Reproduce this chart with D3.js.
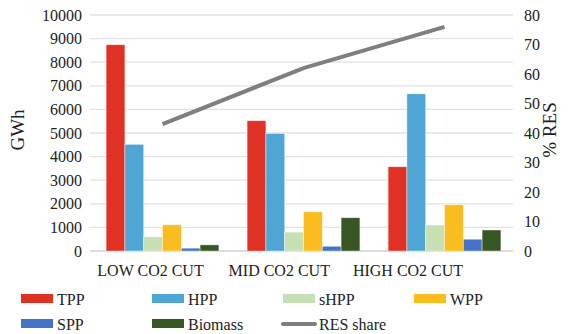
<!DOCTYPE html>
<html><head><meta charset="utf-8">
<script src="https://cdn.jsdelivr.net/npm/d3@7"></script>
<style>body{margin:0;background:#fff}svg{display:block}svg text{font-family:'Liberation Serif','DejaVu Serif','Times New Roman',Times,serif !important;fill:#222}</style>
</head><body><svg id="c" width="572" height="334"></svg>
<script>
const categories = ["LOW CO2 CUT", "MID CO2 CUT", "HIGH CO2 CUT"];
const seriesNames = ["TPP", "HPP", "sHPP", "WPP", "SPP", "Biomass"];
const TPP = [8740, 5520, 3570];
const HPP = [4520, 4980, 6660];
const sHPP = [600, 800, 1100];
const WPP = [1110, 1660, 1960];
const SPP = [120, 200, 500];
const Biomass = [260, 1410, 890];
const resShare = [43, 62, 76];
const leftTicks = [0,1000,2000,3000,4000,5000,6000,7000,8000,9000,10000];
const rightTicks = [0,10,20,30,40,50,60,70,80];
const colors = ["#e03224", "#4fa6d5", "#c6e0b4", "#f9bd20", "#4472c4", "#375623"];
const lineColor = "#7f7f7f";

(function(){
const series = [TPP, HPP, sHPP, WPP, SPP, Biomass];
const svg = d3.select("#c");
const pTop = 15, pBottom = 251, pLeft = 90, pRight = 513;
const y = d3.scaleLinear().domain([0, 10000]).range([pBottom, pTop]);
const y2 = d3.scaleLinear().domain([0, 80]).range([pBottom, pTop]);
const x = d3.scaleBand().domain(categories).range([92, 515]).paddingInner(0.2).paddingOuter(0.1);
const xs = d3.scaleBand().domain(seriesNames).range([0, x.bandwidth()]);
const xl = d3.scalePoint().domain(categories).range([150.5, 408]);

svg.append("g").selectAll("line").data(leftTicks).join("line")
  .attr("x1", pLeft).attr("x2", pRight)
  .attr("y1", d => y(d)).attr("y2", d => y(d))
  .attr("stroke", d => d === 0 ? "#d0d0d0" : "#e2e2e2").attr("stroke-width", 1.3);

const la = svg.append("g").attr("transform", `translate(${pLeft - 8},0)`)
  .call(d3.axisLeft(y).tickValues(leftTicks).tickSize(0).tickPadding(0).tickFormat(d3.format("d")));
la.select(".domain").remove();
la.attr("font-family", null);
la.selectAll("text").attr("font-size", 16).attr("fill", "#222");

const ra = svg.append("g").attr("transform", `translate(${pRight + 11},0)`)
  .call(d3.axisRight(y2).tickValues(rightTicks).tickSize(0).tickPadding(0));
ra.select(".domain").remove();
ra.attr("font-family", null);
ra.selectAll("text").attr("font-size", 16).attr("fill", "#222");

series.forEach((vals, si) => {
  svg.append("g").selectAll("rect").data(vals).join("rect")
    .attr("x", (d, i) => x(categories[i]) + xs(seriesNames[si]))
    .attr("y", d => y(d))
    .attr("width", xs.bandwidth())
    .attr("height", d => pBottom - y(d))
    .attr("fill", colors[si])
    .attr("stroke", "#fff").attr("stroke-opacity", 0.6).attr("stroke-width", 0.7);
});

const line = d3.line().x((d, i) => x(categories[i]) + x.bandwidth() / 2).y(d => y2(d));
svg.append("path").datum(resShare).attr("d", line)
  .attr("fill", "none").attr("stroke", lineColor).attr("stroke-width", 4);

svg.append("g").selectAll("text").data(categories).join("text")
  .attr("x", d => xl(d)).attr("y", 276).attr("text-anchor", "middle")
  .attr("font-size", 16).text(d => d);

svg.append("text").attr("transform", "translate(24,130) rotate(-90)")
  .attr("text-anchor", "middle").attr("font-size", 19).text("GWh");
svg.append("text").attr("transform", "translate(556,130) rotate(-90)")
  .attr("text-anchor", "middle").attr("font-size", 19).text("% RES");

const legendItems = seriesNames.map((n, i) => ({name: n, color: colors[i], type: "rect"}))
  .concat([{name: "RES share", color: lineColor, type: "line"}]);
const lg = svg.append("g");
legendItems.forEach((it, i) => {
  const col = i % 4, row = Math.floor(i / 4);
  const gx = 21 + col * 131, gy = 299 + row * 25;
  if (it.type === "rect") {
    lg.append("rect").attr("x", gx).attr("y", gy - 5).attr("width", 32).attr("height", 9).attr("fill", it.color);
  } else {
    lg.append("line").attr("x1", gx).attr("x2", gx + 32).attr("y1", gy).attr("y2", gy)
      .attr("stroke", it.color).attr("stroke-width", 4).attr("stroke-linecap", "round");
  }
  lg.append("text").attr("x", gx + 36).attr("y", gy + 6).attr("font-size", 16).text(it.name);
});
})();
</script></body></html>
